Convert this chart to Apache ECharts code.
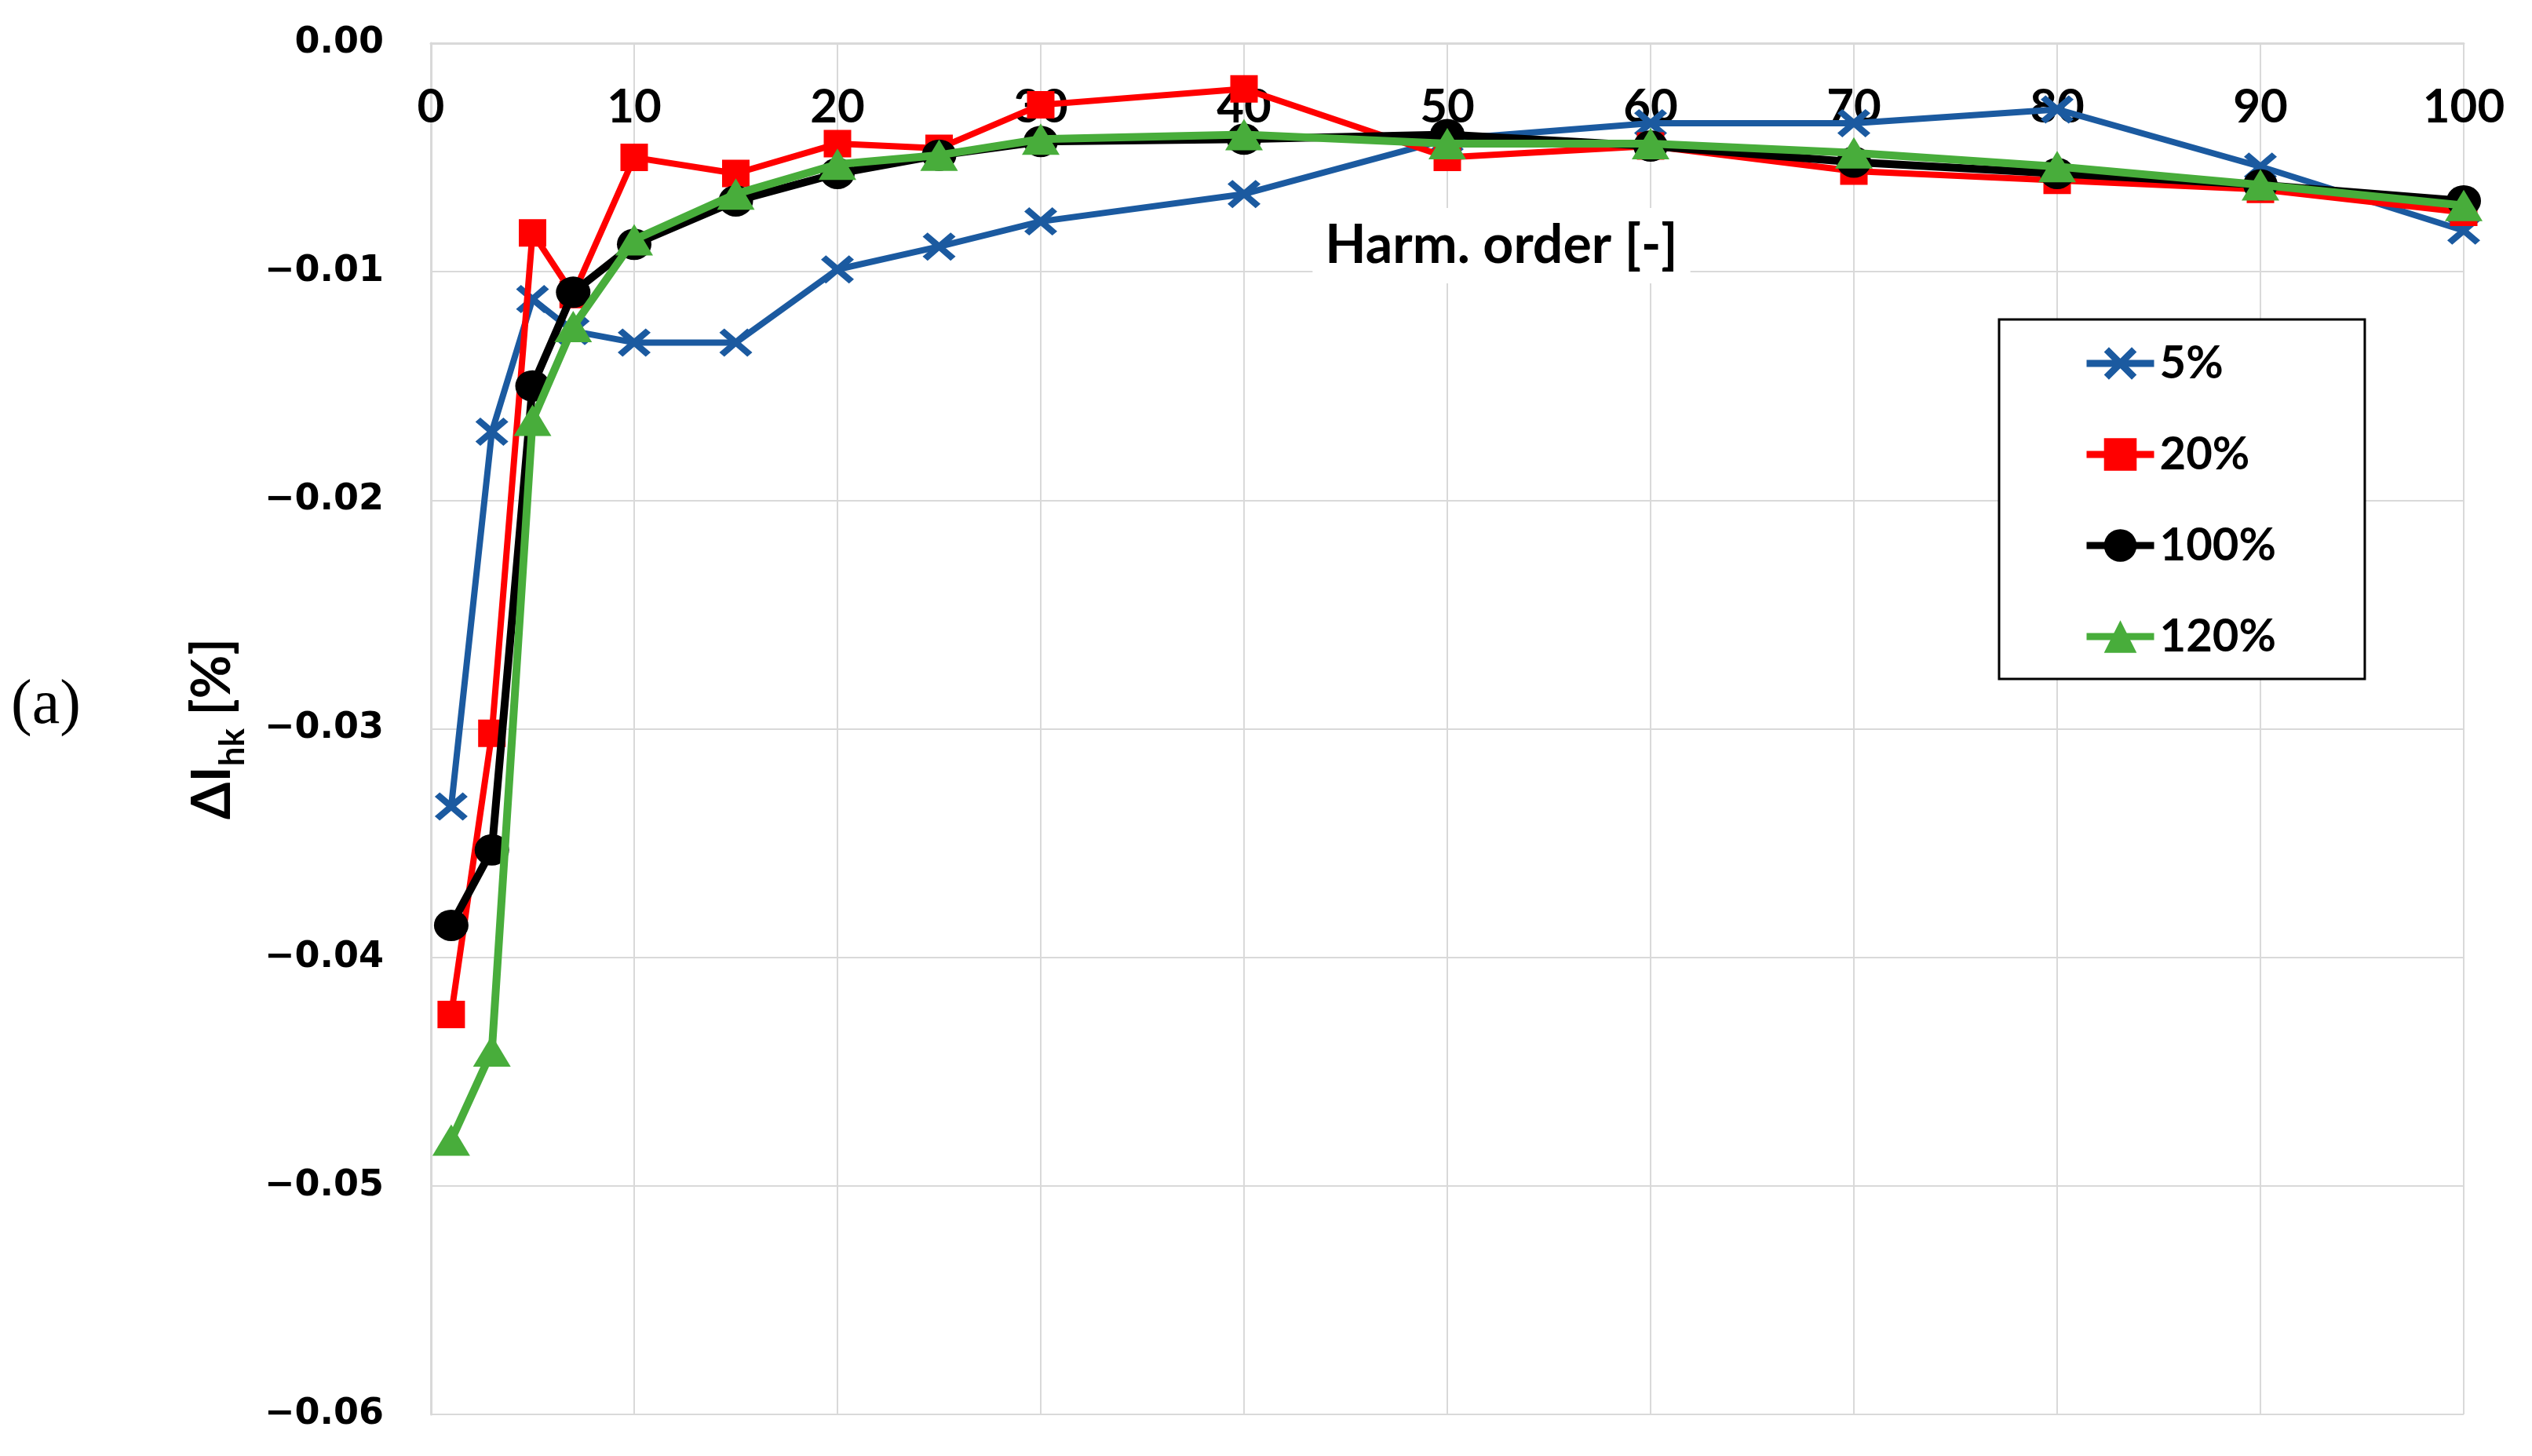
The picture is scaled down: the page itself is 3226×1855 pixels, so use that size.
<!DOCTYPE html>
<html>
<head>
<meta charset="utf-8">
<script src="https://cdn.jsdelivr.net/npm/echarts@6/dist/echarts.min.js"></script>
<style>
  html, body { margin: 0; padding: 0; background: #fff; }
  #main { width: 3226px; height: 1855px; }
</style>
</head>
<body>
<div id="main"></div>
<script>
// harmonic orders on the x axis
var orders = [1, 3, 5, 7, 10, 15, 20, 25, 30, 40, 50, 60, 70, 80, 90, 100];

// delta I_hk for each loading level
var load5 = [-0.0334, -0.0170, -0.0112, -0.0126, -0.0131, -0.0131, -0.0099, -0.0089, -0.0078, -0.0066, -0.0042, -0.0035, -0.0035, -0.0029, -0.0054, -0.0082];
var load20 = [-0.0425, -0.0302, -0.0083, -0.0110, -0.0050, -0.0057, -0.0044, -0.0046, -0.0027, -0.0020, -0.0050, -0.0045, -0.0056, -0.0060, -0.0064, -0.0074];
var load100 = [-0.0386, -0.0353, -0.0150, -0.0109, -0.0088, -0.0069, -0.0057, -0.0049, -0.0043, -0.0042, -0.0040, -0.0045, -0.0052, -0.0057, -0.0062, -0.0069];
var load120 = [-0.0480, -0.0441, -0.0165, -0.0124, -0.0086, -0.0066, -0.0053, -0.0049, -0.0042, -0.0040, -0.0044, -0.0044, -0.0048, -0.0054, -0.0062, -0.0071];

var seriesNames = ['5%', '20%', '100%', '120%'];

function pairs(ys) {
    return ys.map(function (y, i) { return [orders[i], y]; });
}

var crossPath = 'path://M0,1.5L1.5,0L5,3.5L8.5,0L10,1.5L6.5,5L10,8.5L8.5,10L5,6.5L1.5,10L0,8.5L3.5,5Z';
var gridColor = '#d9d9d9';
var boldFont = 'Lato';

var chart = echarts.init(document.getElementById('main'));

var option = {
    backgroundColor: '#fff',
    animation: false,
    grid: { left: 549, right: 87, top: 55, bottom: 53 },
    legend: {
        data: seriesNames,
        orient: 'vertical',
        left: 2547,
        top: 407,
        padding: [26, 113, 24, 107],
        itemGap: 56,
        itemWidth: 86,
        itemHeight: 52,
        lineStyle: { width: 9 },
        borderColor: '#000',
        borderWidth: 3,
        backgroundColor: '#fff',
        textStyle: { fontFamily: boldFont, fontWeight: 'bold', fontSize: 58, color: '#000', lineHeight: 60, padding: [0, 0, 0, 2] }
    },
    xAxis: {
        type: 'value',
        position: 'top',
        min: 0,
        max: 100,
        interval: 10,
        axisLine: { show: true, lineStyle: { color: gridColor, width: 3 } },
        axisTick: { show: false },
        axisLabel: { inside: true, margin: 52, fontFamily: boldFont, fontWeight: 'bold', fontSize: 60, color: '#000' },
        splitLine: { show: true, lineStyle: { color: gridColor, width: 2 } }
    },
    yAxis: {
        type: 'value',
        min: -0.06,
        max: 0,
        interval: 0.01,
        name: '{a|ΔI}{s|hk}{a| [%]}',
        nameLocation: 'middle',
        nameRotate: 90,
        nameGap: 230,
        nameTextStyle: {
            rich: {
                a: { fontFamily: boldFont, fontWeight: 'bold', fontSize: 68, color: '#000', verticalAlign: 'bottom', padding: [0, 0, 14, 0] },
                s: { fontFamily: boldFont, fontWeight: 'bold', fontSize: 44, color: '#000', verticalAlign: 'bottom' }
            }
        },
        axisLine: { show: true, lineStyle: { color: gridColor, width: 3 } },
        axisTick: { show: false },
        axisLabel: {
            margin: 60,
            fontFamily: 'DejaVu Sans',
            fontWeight: 'bold',
            fontSize: 46,
            color: '#000',
            formatter: function (v) {
                return (v < 0 ? '\u2212' : '') + Math.abs(v).toFixed(2);
            }
        },
        splitLine: { show: true, lineStyle: { color: gridColor, width: 2 } }
    },
    graphic: [
        {
            type: 'text',
            x: 1913,
            y: 313,
            z: 5,
            style: {
                text: 'Harm. order [-]',
                align: 'center',
                verticalAlign: 'middle',
                font: 'bold 68px Lato',
                fill: '#000',
                backgroundColor: '#fff',
                padding: [14, 16, 14, 16]
            }
        },
        {
            type: 'text',
            x: 14,
            y: 900,
            style: {
                text: '(a)',
                verticalAlign: 'middle',
                font: '80px "Liberation Serif"',
                fill: '#000'
            }
        }
    ],
    series: [
        {
            name: seriesNames[0],
            type: 'line',
            data: pairs(load5),
            symbol: crossPath,
            symbolSize: [42, 36],
            color: '#1b5aa0',
            lineStyle: { width: 8, color: '#1b5aa0' },
            itemStyle: { color: '#1b5aa0' },
            z: 2
        },
        {
            name: seriesNames[1],
            type: 'line',
            data: pairs(load20),
            symbol: 'rect',
            symbolSize: 35,
            color: '#ff0000',
            lineStyle: { width: 8, color: '#ff0000' },
            itemStyle: { color: '#ff0000' },
            z: 3
        },
        {
            name: seriesNames[2],
            type: 'line',
            data: pairs(load100),
            symbol: 'circle',
            symbolSize: [44, 40],
            color: '#000000',
            lineStyle: { width: 10, color: '#000000' },
            itemStyle: { color: '#000000' },
            z: 4
        },
        {
            name: seriesNames[3],
            type: 'line',
            data: pairs(load120),
            symbol: 'triangle',
            symbolSize: [48, 40],
            color: '#48ad3b',
            lineStyle: { width: 10, color: '#48ad3b' },
            itemStyle: { color: '#48ad3b' },
            z: 5
        }
    ]
};

chart.setOption(option);
</script>
</body>
</html>
